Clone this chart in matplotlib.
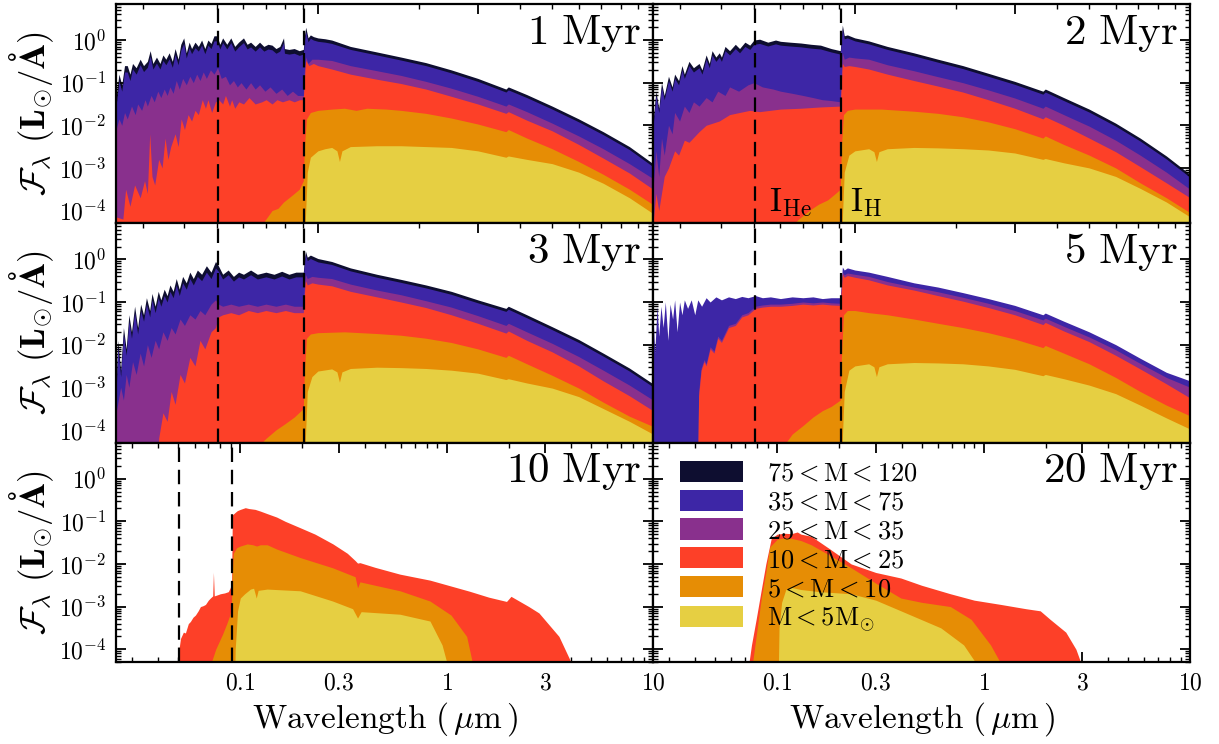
import numpy as np
import matplotlib
matplotlib.use('Agg')
import matplotlib.pyplot as plt
from matplotlib.patches import Patch
from matplotlib.ticker import FixedLocator, FixedFormatter, LogLocator, NullFormatter

plt.rcParams['mathtext.fontset'] = 'cm'
plt.rcParams['font.family'] = 'serif'

# ---------------- data: (wavelength [um], log10 cumulative flux) ----------------
ages = ['1 Myr', '2 Myr', '3 Myr', '5 Myr', '10 Myr', '20 Myr']
bins = [r'$75 < \mathrm{M} < 120$', r'$35 < \mathrm{M} < 75$', r'$25 < \mathrm{M} < 35$',
        r'$10 < \mathrm{M} < 25$', r'$5 < \mathrm{M} < 10$', r'$\mathrm{M} < 5\mathrm{M}_{\odot}$']
edges_um = [0.0504, 0.0912]
xticks_major = [0.1, 0.3, 1, 3, 10]
xtick_labels = ['0.1', '0.3', '1', '3', '10']
yticks_major = [1e-4, 1e-3, 1e-2, 1e-1, 1]
ytick_labels = [r'$10^{-4}$', r'$10^{-3}$', r'$10^{-2}$', r'$10^{-1}$', r'$10^{0}$']

# 1 Myr
s1_all = [(0.025,-1.35),(0.0255,-0.8),(0.026,-1.05),(0.0265,-0.6),(0.027,-0.6),(0.0275,-0.8),(0.028,-0.55),(0.0287,-0.65),(0.0295,-0.45),(0.0302,-0.6),(0.031,-0.5),(0.0316,-0.25),(0.0322,-0.55),(0.033,-0.4),(0.0338,-0.55),(0.0345,-0.35),(0.0352,-0.45),(0.036,-0.3),(0.0368,-0.5),(0.0375,-0.2),(0.0383,-0.45),(0.039,-0.1),(0.0398,0.05),(0.0405,-0.3),(0.0413,-0.05),(0.042,-0.2),(0.043,-0.05),(0.044,-0.15),(0.045,0.0),(0.046,-0.2),(0.047,0.0),(0.048,-0.08),(0.049,0.1),(0.050,0.1),(0.051,-0.1),(0.052,0.05),(0.0535,-0.1),(0.055,0.05),(0.0565,-0.15),(0.058,-0.05),(0.06,0.05),(0.0615,-0.1),(0.063,-0.05),(0.065,-0.15),(0.067,-0.05),(0.069,-0.15),(0.071,-0.1),(0.073,-0.12),(0.075,-0.2),(0.077,-0.15),(0.079,0.05),(0.0795,-0.2),(0.082,-0.22),(0.085,-0.2),(0.088,-0.25),(0.0905,-0.22),(0.0912,0.1),(0.092,0.3),(0.0935,0.05),(0.095,0.12),(0.097,0.08),(0.10,0.05),(0.105,0.03),(0.11,0.0),(0.125,-0.15),(0.15,-0.28),(0.177,-0.4),(0.21,-0.53),(0.25,-0.7),(0.30,-0.9),(0.364,-1.15),(0.37,-1.1),(0.42,-1.28),(0.50,-1.55),(0.60,-1.85),(0.71,-2.15),(0.85,-2.5),(1.0,-2.9)]
s1_lt75 = [(0.025,-1.55),(0.0255,-0.95),(0.026,-1.2),(0.0265,-0.75),(0.027,-0.75),(0.0275,-0.95),(0.028,-0.68),(0.0287,-0.8),(0.0295,-0.58),(0.0302,-0.74),(0.031,-0.64),(0.0316,-0.38),(0.0322,-0.68),(0.033,-0.54),(0.0338,-0.68),(0.0345,-0.48),(0.0352,-0.58),(0.036,-0.44),(0.0368,-0.64),(0.0375,-0.34),(0.0383,-0.58),(0.039,-0.24),(0.0398,-0.08),(0.0405,-0.42),(0.0413,-0.18),(0.042,-0.32),(0.043,-0.18),(0.044,-0.26),(0.045,-0.12),(0.046,-0.32),(0.047,-0.12),(0.048,-0.2),(0.049,-0.02),(0.050,-0.02),(0.051,-0.21),(0.052,-0.06),(0.0535,-0.21),(0.055,-0.06),(0.0565,-0.26),(0.058,-0.16),(0.06,-0.06),(0.0615,-0.21),(0.063,-0.16),(0.065,-0.26),(0.067,-0.16),(0.069,-0.26),(0.071,-0.21),(0.073,-0.23),(0.075,-0.31),(0.077,-0.26),(0.079,-0.06),(0.0795,-0.31),(0.082,-0.33),(0.085,-0.31),(0.088,-0.36),(0.0905,-0.33),(0.0912,-0.02),(0.092,0.2),(0.0935,-0.04),(0.095,0.04),(0.097,0.0),(0.10,-0.03),(0.105,-0.05),(0.11,-0.08),(0.125,-0.22),(0.15,-0.35),(0.177,-0.47),(0.21,-0.6),(0.25,-0.77),(0.30,-0.97),(0.364,-1.22),(0.37,-1.17),(0.42,-1.35),(0.50,-1.62),(0.60,-1.92),(0.71,-2.22),(0.85,-2.57),(1.0,-2.97)]
s1_lt35 = [(0.025,-2.1),(0.0255,-1.85),(0.026,-2.0),(0.0265,-1.7),(0.027,-1.85),(0.0278,-1.55),(0.0285,-1.75),(0.029,-1.5),(0.0298,-1.65),(0.0305,-1.4),(0.031,-1.55),(0.0318,-1.3),(0.0325,-1.45),(0.0333,-1.2),(0.034,-1.35),(0.0348,-1.15),(0.0355,-1.3),(0.0362,-1.1),(0.037,-1.25),(0.0378,-0.95),(0.0386,-1.15),(0.0395,-0.9),(0.0405,-1.05),(0.0415,-0.85),(0.0425,-1.0),(0.0435,-0.8),(0.0445,-0.95),(0.0455,-0.75),(0.0465,-0.9),(0.0478,-0.7),(0.049,-0.8),(0.0502,-0.65),(0.0515,-0.9),(0.053,-0.85),(0.0545,-1.05),(0.056,-0.95),(0.0575,-1.1),(0.059,-1.0),(0.061,-1.15),(0.063,-1.0),(0.065,-1.15),(0.067,-1.05),(0.0695,-1.2),(0.072,-1.1),(0.075,-1.25),(0.078,-1.15),(0.081,-1.3),(0.084,-1.2),(0.087,-1.3),(0.0905,-1.3),(0.0912,-0.7),(0.092,-0.4),(0.0935,-0.55),(0.096,-0.45),(0.10,-0.45),(0.11,-0.48),(0.125,-0.6),(0.15,-0.72),(0.177,-0.83),(0.21,-0.97),(0.25,-1.13),(0.30,-1.32),(0.364,-1.55),(0.37,-1.5),(0.42,-1.68),(0.50,-1.95),(0.60,-2.25),(0.71,-2.55),(0.85,-2.9),(1.0,-3.25)]
s1_lt25 = [(0.025,-4.15),(0.0262,-4.2),(0.0267,-3.5),(0.0275,-3.9),(0.0284,-3.4),(0.0295,-3.7),(0.0304,-3.3),(0.031,-3.6),(0.0315,-2.2),(0.032,-3.2),(0.0326,-3.4),(0.0335,-2.8),(0.0343,-3.0),(0.035,-2.3),(0.0357,-2.8),(0.0364,-2.5),(0.0375,-2.2),(0.0383,-2.5),(0.0391,-1.85),(0.040,-2.1),(0.041,-1.75),(0.042,-1.9),(0.043,-1.65),(0.044,-1.75),(0.0452,-1.4),(0.0462,-1.6),(0.047,-1.4),(0.0482,-1.7),(0.0495,-1.45),(0.0506,-1.4),(0.052,-1.5),(0.053,-1.3),(0.0545,-1.55),(0.0553,-1.4),(0.0565,-1.6),(0.0581,-1.45),(0.060,-1.5),(0.0623,-1.35),(0.065,-1.5),(0.068,-1.45),(0.0701,-1.4),(0.073,-1.5),(0.0755,-1.4),(0.0784,-1.45),(0.082,-1.4),(0.085,-1.45),(0.0882,-1.4),(0.0905,-1.4),(0.0912,-0.9),(0.092,-0.48),(0.094,-0.6),(0.097,-0.55),(0.10,-0.6),(0.11,-0.68),(0.125,-0.8),(0.15,-0.92),(0.177,-1.02),(0.21,-1.15),(0.25,-1.32),(0.30,-1.5),(0.364,-1.72),(0.37,-1.68),(0.42,-1.88),(0.50,-2.13),(0.60,-2.45),(0.71,-2.77),(0.85,-3.12),(1.0,-3.5)]
s1_lt10 = [(0.066,-6),(0.067,-4.4),(0.070,-4.2),(0.073,-4.0),(0.076,-3.95),(0.079,-3.8),(0.082,-3.7),(0.085,-3.6),(0.088,-3.5),(0.0905,-3.3),(0.0912,-2.5),(0.0925,-1.85),(0.095,-1.7),(0.10,-1.65),(0.11,-1.62),(0.12,-1.6),(0.13,-1.65),(0.14,-1.6),(0.16,-1.62),(0.177,-1.65),(0.21,-1.72),(0.25,-1.83),(0.30,-1.97),(0.364,-2.15),(0.37,-2.1),(0.42,-2.3),(0.50,-2.55),(0.60,-2.85),(0.71,-3.15),(0.85,-3.5),(1.0,-3.86)]
s1_lt5 = [(0.0912,-6),(0.0918,-4.2),(0.093,-3.1),(0.095,-2.75),(0.10,-2.6),(0.105,-2.55),(0.11,-2.52),(0.114,-2.6),(0.116,-2.85),(0.118,-2.6),(0.125,-2.5),(0.15,-2.48),(0.177,-2.48),(0.21,-2.5),(0.25,-2.52),(0.30,-2.6),(0.364,-2.75),(0.37,-2.72),(0.42,-2.8),(0.50,-2.9),(0.60,-3.1),(0.71,-3.36),(0.85,-3.7),(1.0,-4.07)]

# 2 Myr
s2_all = [(0.025,-1.9),(0.0255,-1.2),(0.026,-1.6),(0.0265,-1.0),(0.027,-1.3),(0.0278,-0.85),(0.0285,-1.1),(0.029,-0.8),(0.0298,-0.95),(0.0305,-0.6),(0.031,-0.8),(0.032,-0.5),(0.033,-0.65),(0.0343,-0.55),(0.035,-0.7),(0.036,-0.35),(0.0368,-0.55),(0.0375,-0.25),(0.0385,-0.4),(0.0394,-0.3),(0.040,-0.4),(0.041,-0.15),(0.0423,-0.25),(0.044,-0.1),(0.0453,-0.2),(0.047,-0.05),(0.0486,-0.12),(0.050,0.0),(0.052,0.02),(0.055,-0.05),(0.058,0.0),(0.060,-0.03),(0.064,-0.05),(0.069,-0.07),(0.074,-0.1),(0.079,-0.12),(0.085,-0.2),(0.0905,-0.25),(0.0912,0.1),(0.0918,0.35),(0.093,0.1),(0.095,0.12),(0.10,0.05),(0.11,-0.02),(0.125,-0.15),(0.15,-0.3),(0.177,-0.45),(0.21,-0.6),(0.25,-0.78),(0.30,-0.97),(0.364,-1.2),(0.37,-1.15),(0.42,-1.35),(0.50,-1.62),(0.60,-1.95),(0.71,-2.3),(0.85,-2.72),(1.0,-3.15)]
s2_lt75 = [(0.025,-2.02),(0.0255,-1.3),(0.026,-1.7),(0.0265,-1.1),(0.027,-1.4),(0.0278,-0.95),(0.0285,-1.2),(0.029,-0.9),(0.0298,-1.05),(0.0305,-0.7),(0.031,-0.9),(0.032,-0.6),(0.033,-0.75),(0.0343,-0.65),(0.035,-0.8),(0.036,-0.45),(0.0368,-0.65),(0.0375,-0.35),(0.0385,-0.5),(0.0394,-0.4),(0.040,-0.5),(0.041,-0.25),(0.0423,-0.35),(0.044,-0.2),(0.0453,-0.3),(0.047,-0.15),(0.0486,-0.22),(0.050,-0.1),(0.052,-0.08),(0.055,-0.14),(0.058,-0.09),(0.060,-0.12),(0.064,-0.14),(0.069,-0.16),(0.074,-0.19),(0.079,-0.21),(0.085,-0.28),(0.0905,-0.33),(0.0912,0.02),(0.0918,0.27),(0.093,0.03),(0.095,0.05),(0.10,-0.02),(0.11,-0.09),(0.125,-0.22),(0.15,-0.37),(0.177,-0.52),(0.21,-0.67),(0.25,-0.85),(0.30,-1.04),(0.364,-1.27),(0.37,-1.22),(0.42,-1.42),(0.50,-1.69),(0.60,-2.02),(0.71,-2.37),(0.85,-2.79),(1.0,-3.22)]
s2_lt35 = [(0.025,-3.5),(0.0255,-2.6),(0.026,-3.2),(0.0265,-2.3),(0.027,-2.7),(0.0278,-2.0),(0.0285,-2.2),(0.029,-1.7),(0.03,-1.9),(0.031,-1.55),(0.032,-1.7),(0.033,-1.45),(0.0343,-1.55),(0.036,-1.35),(0.0375,-1.45),(0.039,-1.2),(0.041,-1.3),(0.0423,-1.1),(0.045,-1.2),(0.048,-1.05),(0.050,-1.0),(0.053,-1.1),(0.057,-1.15),(0.06,-1.2),(0.065,-1.25),(0.07,-1.3),(0.075,-1.35),(0.08,-1.4),(0.085,-1.42),(0.0905,-1.45),(0.0912,-0.8),(0.0918,-0.3),(0.093,-0.45),(0.096,-0.4),(0.10,-0.42),(0.11,-0.45),(0.125,-0.58),(0.15,-0.72),(0.177,-0.86),(0.21,-1.0),(0.25,-1.17),(0.30,-1.36),(0.364,-1.6),(0.37,-1.55),(0.42,-1.75),(0.50,-2.02),(0.60,-2.35),(0.71,-2.7),(0.85,-3.1),(1.0,-3.5)]
s2_lt25 = [(0.025,-4.3),(0.0255,-3.6),(0.026,-4.0),(0.027,-3.2),(0.0278,-3.0),(0.029,-2.6),(0.0298,-2.7),(0.031,-2.35),(0.032,-2.4),(0.0343,-2.15),(0.036,-2.0),(0.0394,-1.9),(0.0423,-1.75),(0.0453,-1.7),(0.0486,-1.65),(0.052,-1.68),(0.06,-1.62),(0.069,-1.6),(0.079,-1.57),(0.0905,-1.55),(0.0912,-1.0),(0.0918,-0.55),(0.093,-0.62),(0.096,-0.6),(0.10,-0.62),(0.11,-0.68),(0.125,-0.8),(0.15,-0.95),(0.177,-1.08),(0.21,-1.22),(0.25,-1.4),(0.30,-1.6),(0.364,-1.85),(0.37,-1.8),(0.42,-2.0),(0.50,-2.3),(0.60,-2.62),(0.71,-2.97),(0.85,-3.35),(1.0,-3.7)]
s2_lt10 = [(0.063,-6),(0.064,-4.4),(0.068,-4.2),(0.073,-4.0),(0.078,-3.85),(0.083,-3.75),(0.0875,-3.6),(0.0905,-3.5),(0.0912,-2.5),(0.0925,-1.75),(0.095,-1.65),(0.10,-1.62),(0.12,-1.62),(0.15,-1.67),(0.177,-1.72),(0.21,-1.8),(0.25,-1.92),(0.30,-2.08),(0.364,-2.3),(0.37,-2.25),(0.42,-2.45),(0.50,-2.7),(0.60,-3.0),(0.71,-3.35),(0.85,-3.7),(1.0,-4.05)]
s2_lt5 = [(0.0912,-6),(0.0918,-4.2),(0.093,-3.1),(0.096,-2.7),(0.10,-2.6),(0.11,-2.55),(0.114,-2.62),(0.116,-2.85),(0.118,-2.62),(0.125,-2.55),(0.15,-2.52),(0.177,-2.53),(0.21,-2.55),(0.25,-2.58),(0.30,-2.65),(0.364,-2.8),(0.37,-2.78),(0.42,-2.88),(0.50,-3.0),(0.60,-3.2),(0.71,-3.48),(0.85,-3.8),(1.0,-4.15)]

# 3 Myr
s3_all = [(0.025,-3.0),(0.0253,-1.9),(0.0258,-2.6),(0.0263,-1.6),(0.0268,-2.1),(0.0273,-1.3),(0.0278,-1.7),(0.0284,-1.1),(0.029,-1.6),(0.0296,-1.05),(0.0302,-1.3),(0.0308,-0.9),(0.0315,-1.2),(0.032,-0.8),(0.0327,-1.1),(0.0334,-0.75),(0.034,-0.95),(0.0348,-0.7),(0.0355,-0.85),(0.0362,-0.6),(0.037,-0.75),(0.0378,-0.45),(0.0386,-0.7),(0.0395,-0.4),(0.0405,-0.55),(0.0415,-0.3),(0.0425,-0.45),(0.0437,-0.25),(0.045,-0.35),(0.0465,-0.15),(0.048,-0.3),(0.0495,-0.05),(0.0505,-0.15),(0.052,-0.35),(0.054,-0.25),(0.056,-0.4),(0.058,-0.3),(0.06,-0.35),(0.063,-0.25),(0.066,-0.35),(0.07,-0.3),(0.074,-0.35),(0.078,-0.28),(0.082,-0.35),(0.086,-0.3),(0.0905,-0.3),(0.0912,0.0),(0.0918,0.2),(0.093,0.05),(0.095,0.1),(0.10,0.02),(0.11,-0.05),(0.125,-0.2),(0.15,-0.35),(0.177,-0.47),(0.21,-0.6),(0.25,-0.75),(0.30,-0.95),(0.364,-1.15),(0.37,-1.1),(0.42,-1.3),(0.50,-1.58),(0.60,-1.88),(0.71,-2.2),(0.85,-2.55),(1.0,-2.92)]
s3_lt75 = [(0.025,-3.15),(0.0253,-2.05),(0.0258,-2.75),(0.0263,-1.75),(0.0268,-2.25),(0.0273,-1.45),(0.0278,-1.85),(0.0284,-1.25),(0.029,-1.75),(0.0296,-1.2),(0.0302,-1.45),(0.0308,-1.05),(0.0315,-1.35),(0.032,-0.95),(0.0327,-1.25),(0.0334,-0.9),(0.034,-1.1),(0.0348,-0.85),(0.0355,-1.0),(0.0362,-0.75),(0.037,-0.9),(0.0378,-0.6),(0.0386,-0.85),(0.0395,-0.55),(0.0405,-0.7),(0.0415,-0.45),(0.0425,-0.6),(0.0437,-0.4),(0.045,-0.5),(0.0465,-0.3),(0.048,-0.45),(0.0495,-0.2),(0.0505,-0.28),(0.052,-0.46),(0.054,-0.36),(0.056,-0.51),(0.058,-0.41),(0.06,-0.46),(0.063,-0.36),(0.066,-0.46),(0.07,-0.41),(0.074,-0.46),(0.078,-0.39),(0.082,-0.46),(0.086,-0.41),(0.0905,-0.41),(0.0912,-0.08),(0.0918,0.12),(0.093,-0.03),(0.095,0.02),(0.10,-0.06),(0.11,-0.12),(0.125,-0.27),(0.15,-0.42),(0.177,-0.54),(0.21,-0.67),(0.25,-0.82),(0.30,-1.02),(0.364,-1.22),(0.37,-1.17),(0.42,-1.37),(0.50,-1.65),(0.60,-1.95),(0.71,-2.27),(0.85,-2.62),(1.0,-2.99)]
s3_lt35 = [(0.025,-3.6),(0.0258,-3.0),(0.0263,-3.3),(0.0268,-2.7),(0.0273,-3.0),(0.028,-2.4),(0.0287,-2.7),(0.0295,-2.2),(0.0302,-2.5),(0.031,-2.0),(0.0318,-2.3),(0.0327,-1.9),(0.0335,-2.1),(0.0345,-1.7),(0.0355,-1.9),(0.0365,-1.6),(0.0375,-1.75),(0.0388,-1.4),(0.04,-1.55),(0.0415,-1.3),(0.043,-1.4),(0.0445,-1.2),(0.046,-1.3),(0.048,-1.05),(0.0495,-0.95),(0.0505,-1.05),(0.052,-1.1),(0.055,-1.05),(0.058,-1.1),(0.062,-1.05),(0.066,-1.1),(0.07,-1.05),(0.075,-1.1),(0.08,-1.05),(0.085,-1.1),(0.0905,-1.1),(0.0912,-0.6),(0.0918,-0.35),(0.093,-0.45),(0.096,-0.4),(0.10,-0.42),(0.11,-0.45),(0.125,-0.58),(0.15,-0.72),(0.177,-0.83),(0.21,-0.97),(0.25,-1.12),(0.30,-1.32),(0.364,-1.55),(0.37,-1.5),(0.42,-1.7),(0.50,-1.97),(0.60,-2.28),(0.71,-2.6),(0.85,-2.95),(1.0,-3.3)]
s3_lt25 = [(0.033,-6),(0.0335,-4.2),(0.0345,-3.6),(0.0355,-3.8),(0.0365,-3.1),(0.0375,-3.4),(0.0388,-2.7),(0.04,-2.9),(0.0415,-2.3),(0.043,-2.5),(0.0445,-1.9),(0.046,-2.1),(0.048,-1.7),(0.0495,-1.6),(0.0505,-1.35),(0.052,-1.3),(0.055,-1.25),(0.058,-1.3),(0.062,-1.2),(0.066,-1.25),(0.07,-1.2),(0.075,-1.25),(0.08,-1.2),(0.085,-1.25),(0.0905,-1.25),(0.0912,-0.8),(0.0918,-0.5),(0.093,-0.6),(0.096,-0.55),(0.10,-0.58),(0.11,-0.62),(0.125,-0.75),(0.15,-0.88),(0.177,-1.0),(0.21,-1.13),(0.25,-1.3),(0.30,-1.5),(0.364,-1.73),(0.37,-1.68),(0.42,-1.9),(0.50,-2.17),(0.60,-2.5),(0.71,-2.85),(0.85,-3.2),(1.0,-3.55)]
s3_lt10 = [(0.065,-6),(0.066,-4.4),(0.07,-4.2),(0.075,-4.0),(0.08,-3.85),(0.085,-3.7),(0.0905,-3.5),(0.0912,-2.6),(0.0925,-1.85),(0.095,-1.75),(0.10,-1.72),(0.12,-1.7),(0.15,-1.74),(0.177,-1.78),(0.21,-1.85),(0.25,-1.95),(0.30,-2.1),(0.364,-2.3),(0.37,-2.25),(0.42,-2.45),(0.50,-2.72),(0.60,-3.02),(0.71,-3.35),(0.85,-3.68),(1.0,-3.92)]
s3_lt5 = [(0.0912,-6),(0.0918,-4.2),(0.093,-3.1),(0.096,-2.75),(0.10,-2.62),(0.11,-2.57),(0.114,-2.64),(0.116,-2.88),(0.118,-2.64),(0.125,-2.56),(0.15,-2.53),(0.177,-2.54),(0.21,-2.56),(0.25,-2.6),(0.30,-2.67),(0.364,-2.82),(0.37,-2.8),(0.42,-2.9),(0.50,-3.02),(0.60,-3.22),(0.71,-3.5),(0.85,-3.8),(1.0,-4.1)]

# 5 Myr
s5_lt75 = [(0.025,-1.3),(0.0253,-2.2),(0.0257,-1.1),(0.026,-1.8),(0.0264,-1.1),(0.0268,-1.6),(0.0272,-1.0),(0.0277,-1.9),(0.0281,-1.05),(0.0286,-1.4),(0.029,-0.95),(0.0295,-1.7),(0.03,-1.0),(0.0305,-1.3),(0.031,-0.95),(0.0317,-1.15),(0.0325,-0.95),(0.0333,-1.3),(0.034,-0.95),(0.0349,-1.1),(0.036,-0.9),(0.037,-1.0),(0.0385,-0.88),(0.040,-0.95),(0.042,-0.88),(0.044,-0.92),(0.046,-0.87),(0.048,-0.9),(0.0505,-0.85),(0.053,-0.9),(0.056,-0.88),(0.06,-0.92),(0.065,-0.88),(0.07,-0.9),(0.075,-0.88),(0.08,-0.92),(0.085,-0.9),(0.0905,-0.9),(0.0912,-0.5),(0.0918,-0.18),(0.093,-0.25),(0.095,-0.2),(0.10,-0.25),(0.11,-0.3),(0.125,-0.4),(0.15,-0.55),(0.177,-0.65),(0.21,-0.78),(0.25,-0.92),(0.30,-1.08),(0.364,-1.3),(0.37,-1.26),(0.42,-1.45),(0.50,-1.7),(0.60,-2.0),(0.71,-2.32),(0.85,-2.65),(1.0,-2.85)]
s5_lt35 = [(0.0338,-6),(0.0342,-3.1),(0.0348,-2.55),(0.0355,-2.35),(0.036,-2.45),(0.037,-2.05),(0.038,-2.15),(0.039,-1.8),(0.040,-1.9),(0.042,-1.55),(0.044,-1.5),(0.046,-1.3),(0.048,-1.25),(0.0505,-1.1),(0.053,-1.07),(0.056,-1.05),(0.06,-1.05),(0.065,-1.03),(0.07,-1.0),(0.075,-1.02),(0.08,-1.0),(0.085,-1.02),(0.0905,-1.03),(0.0912,-0.65),(0.0918,-0.3),(0.093,-0.36),(0.095,-0.32),(0.10,-0.35),(0.11,-0.4),(0.125,-0.52),(0.15,-0.65),(0.177,-0.76),(0.21,-0.89),(0.25,-1.03),(0.30,-1.2),(0.364,-1.42),(0.37,-1.38),(0.42,-1.57),(0.50,-1.82),(0.60,-2.12),(0.71,-2.44),(0.85,-2.77),(1.0,-3.0)]
s5_lt25 = [(0.0338,-6),(0.0342,-3.2),(0.0348,-2.6),(0.0355,-2.4),(0.036,-2.5),(0.037,-2.1),(0.038,-2.2),(0.039,-1.85),(0.040,-1.95),(0.042,-1.6),(0.044,-1.55),(0.046,-1.35),(0.048,-1.3),(0.0505,-1.15),(0.053,-1.12),(0.056,-1.1),(0.06,-1.1),(0.065,-1.08),(0.07,-1.05),(0.075,-1.07),(0.08,-1.05),(0.085,-1.07),(0.0905,-1.08),(0.0912,-0.7),(0.0918,-0.35),(0.093,-0.42),(0.095,-0.38),(0.10,-0.42),(0.11,-0.48),(0.125,-0.6),(0.15,-0.72),(0.177,-0.85),(0.21,-0.98),(0.25,-1.13),(0.30,-1.3),(0.364,-1.53),(0.37,-1.48),(0.42,-1.68),(0.50,-1.93),(0.60,-2.25),(0.71,-2.57),(0.85,-2.92),(1.0,-3.25)]
s5_lt10 = [(0.0605,-6),(0.061,-4.4),(0.065,-4.1),(0.07,-3.9),(0.075,-3.7),(0.08,-3.55),(0.085,-3.45),(0.0905,-3.3),(0.0912,-2.3),(0.0925,-1.3),(0.095,-1.2),(0.10,-1.2),(0.11,-1.25),(0.125,-1.3),(0.15,-1.4),(0.177,-1.5),(0.21,-1.6),(0.25,-1.72),(0.30,-1.87),(0.364,-2.07),(0.37,-2.02),(0.42,-2.2),(0.50,-2.45),(0.60,-2.77),(0.71,-3.1),(0.85,-3.42),(1.0,-3.67)]
s5_lt5 = [(0.0912,-6),(0.0918,-4.2),(0.093,-3.1),(0.096,-2.6),(0.10,-2.5),(0.11,-2.45),(0.114,-2.52),(0.116,-2.75),(0.118,-2.52),(0.125,-2.45),(0.15,-2.42),(0.177,-2.43),(0.21,-2.45),(0.25,-2.5),(0.30,-2.58),(0.364,-2.73),(0.37,-2.7),(0.42,-2.8),(0.50,-2.95),(0.60,-3.15),(0.71,-3.42),(0.85,-3.72),(1.0,-3.98)]

# 10 Myr
s10_lt25 = [(0.049,-6),(0.0495,-4.3),(0.0513,-3.75),(0.053,-3.6),(0.0542,-3.62),(0.056,-3.4),(0.0573,-3.35),(0.059,-3.25),(0.0606,-3.2),(0.0625,-3.1),(0.0641,-3.0),(0.066,-2.98),(0.0678,-2.95),(0.07,-2.85),(0.0716,-2.8),(0.0735,-2.75),(0.0741,-2.2),(0.0748,-2.75),(0.078,-2.72),(0.08,-2.7),(0.084,-2.68),(0.0875,-2.65),(0.0895,-2.55),(0.0908,-2.4),(0.0915,-0.85),(0.095,-0.78),(0.0967,-0.75),(0.1,-0.72),(0.1057,-0.68),(0.11,-0.7),(0.118,-0.72),(0.125,-0.76),(0.135,-0.82),(0.15,-0.9),(0.165,-1.0),(0.195,-1.15),(0.23,-1.3),(0.281,-1.53),(0.33,-1.75),(0.36,-1.92),(0.37,-1.98),(0.38,-1.97),(0.45,-2.08),(0.594,-2.24),(0.83,-2.38),(1.29,-2.64),(1.6,-2.78),(1.95,-2.88),(2.05,-2.76),(2.5,-3.0),(2.8,-3.15),(3.5,-3.7),(4.0,-4.3),(4.05,-6)]
s10_lt10 = [(0.07,-6),(0.0725,-4.3),(0.076,-4.0),(0.082,-3.65),(0.086,-3.4),(0.089,-3.2),(0.0905,-3.0),(0.0915,-2.2),(0.0925,-1.75),(0.096,-1.62),(0.10,-1.58),(0.108,-1.53),(0.115,-1.55),(0.12,-1.58),(0.125,-1.55),(0.135,-1.55),(0.15,-1.65),(0.195,-1.85),(0.28,-2.09),(0.36,-2.3),(0.37,-2.56),(0.38,-2.42),(0.45,-2.5),(0.594,-2.63),(0.83,-2.87),(1.05,-3.2),(1.25,-3.7),(1.33,-4.3),(1.35,-6)]
s10_lt5 = [(0.093,-6),(0.0945,-4.0),(0.097,-3.1),(0.10,-2.8),(0.105,-2.7),(0.112,-2.59),(0.116,-2.57),(0.1195,-2.8),(0.122,-2.62),(0.135,-2.59),(0.195,-2.63),(0.28,-2.87),(0.35,-3.05),(0.37,-3.27),(0.385,-3.12),(0.594,-3.18),(0.83,-3.34),(0.95,-3.9),(1.0,-4.3),(1.01,-6)]

# 20 Myr
s20_lt25 = [(0.0716,-6),(0.073,-4.3),(0.075,-3.9),(0.079,-3.3),(0.0837,-2.6),(0.088,-2.0),(0.0935,-1.4),(0.1,-1.3),(0.108,-1.28),(0.117,-1.29),(0.125,-1.25),(0.13,-1.3),(0.146,-1.35),(0.18,-1.65),(0.228,-2.0),(0.3,-2.2),(0.397,-2.33),(0.5,-2.5),(0.69,-2.7),(0.9,-2.85),(1.21,-2.95),(1.6,-3.05),(1.88,-3.1),(2.1,-3.3),(2.5,-3.6),(2.8,-4.0),(3.0,-4.4),(3.05,-6)]
s20_lt10 = [(0.074,-6),(0.076,-4.3),(0.08,-3.5),(0.0837,-2.8),(0.088,-2.2),(0.092,-1.6),(0.1,-1.42),(0.108,-1.39),(0.117,-1.4),(0.13,-1.45),(0.146,-1.55),(0.18,-1.8),(0.228,-2.09),(0.3,-2.45),(0.397,-2.8),(0.5,-2.9),(0.69,-3.0),(0.87,-3.3),(1.08,-3.9),(1.2,-4.3),(1.22,-6)]
s20_lt5 = [(0.1,-6),(0.102,-3.5),(0.105,-2.9),(0.11,-2.6),(0.117,-2.55),(0.13,-2.6),(0.16,-2.65),(0.228,-2.7),(0.3,-2.85),(0.397,-3.1),(0.62,-3.5),(0.8,-3.9),(0.91,-4.3),(0.92,-6)]

panel_curves = [
    [s1_all, s1_lt75, s1_lt35, s1_lt25, s1_lt10, s1_lt5],
    [s2_all, s2_lt75, s2_lt35, s2_lt25, s2_lt10, s2_lt5],
    [s3_all, s3_lt75, s3_lt35, s3_lt25, s3_lt10, s3_lt5],
    [None, s5_lt75, s5_lt35, s5_lt25, s5_lt10, s5_lt5],
    [None, None, None, s10_lt25, s10_lt10, s10_lt5],
    [None, None, None, s20_lt25, s20_lt10, s20_lt5],
]
xlims = [(0.025, 1.0), (0.025, 1.0), (0.025, 1.0), (0.025, 1.0), (0.025, 10), (0.025, 10)]
ylim = (5e-5, 7)

colors = plt.get_cmap('CMRmap')(np.linspace(0.05, 0.8, 6))

fig, axes = plt.subplots(3, 2, figsize=(12.19, 7.44), dpi=100)
fig.subplots_adjust(left=0.0952, right=0.9762, top=0.9946, bottom=0.1102, hspace=0, wspace=0)
axes = axes.ravel()

for i, ax in enumerate(axes):
    ax.set_xscale('log')
    ax.set_yscale('log')
    for k, curve in enumerate(panel_curves[i]):
        if curve is None:
            continue
        wl = np.array([p[0] for p in curve])
        fl = 10.0 ** np.array([p[1] for p in curve])
        ax.fill_between(wl, fl, 1e-12, color=colors[k], lw=0, zorder=1 + k)
    if i < 5:
        for e in edges_um:
            ax.axvline(e, color='k', lw=1.6, dashes=(6.5, 3.5), zorder=10)
    ax.set_xlim(*xlims[i])
    ax.set_ylim(*ylim)
    ax.xaxis.set_major_locator(FixedLocator(xticks_major))
    ax.xaxis.set_minor_locator(LogLocator(base=10, subs=np.arange(2, 10), numticks=30))
    ax.yaxis.set_major_locator(FixedLocator(yticks_major))
    ax.yaxis.set_minor_locator(LogLocator(base=10, subs=np.arange(2, 10), numticks=30))
    ax.xaxis.set_minor_formatter(NullFormatter())
    ax.yaxis.set_minor_formatter(NullFormatter())
    ax.tick_params(which='both', direction='in', top=True, right=True, zorder=20)
    ax.tick_params(which='major', length=7, width=1.3, labelsize=17, pad=7)
    ax.tick_params(which='minor', length=3.5, width=1.0)
    for sp in ax.spines.values():
        sp.set_linewidth(1.6)
        sp.set_zorder(20)
    if i % 2 == 0:
        ax.yaxis.set_major_formatter(FixedFormatter(ytick_labels))
        ax.set_ylabel(r'$\mathcal{F}_{\lambda}\ (\mathbf{L}_{\odot}/\mathbf{\AA})$', fontsize=25, labelpad=2)
    else:
        ax.yaxis.set_major_formatter(NullFormatter())
    if i >= 4:
        ax.xaxis.set_major_formatter(FixedFormatter(['$' + t + '$' for t in xtick_labels]))
        ax.set_xlabel(r'$\mathrm{Wavelength}\ (\,\mu\mathrm{m}\,)$', fontsize=24, labelpad=4)
    else:
        ax.xaxis.set_major_formatter(NullFormatter())
    ax.text(0.978, 0.965, r'$\mathrm{' + ages[i].replace(' ', r'\ ') + '}$', transform=ax.transAxes,
            ha='right', va='top', fontsize=31, zorder=30)

axes[1].text(0.0555, 9.5e-5, r'$\mathrm{I_{He}}$', fontsize=24, zorder=30)
axes[1].text(0.0965, 9.5e-5, r'$\mathrm{I_{H}}$', fontsize=24, zorder=30)

handles = [Patch(facecolor=c, edgecolor='none') for c in colors]
leg = axes[5].legend(handles, bins, loc='upper left', bbox_to_anchor=(0.05, 0.92), frameon=False,
                     fontsize=19, handlelength=2.4, handleheight=0.85, handletextpad=0.9,
                     labelspacing=0.15, borderpad=0, borderaxespad=0)
leg.set_zorder(50)

fig.savefig('out.png', dpi=100)
